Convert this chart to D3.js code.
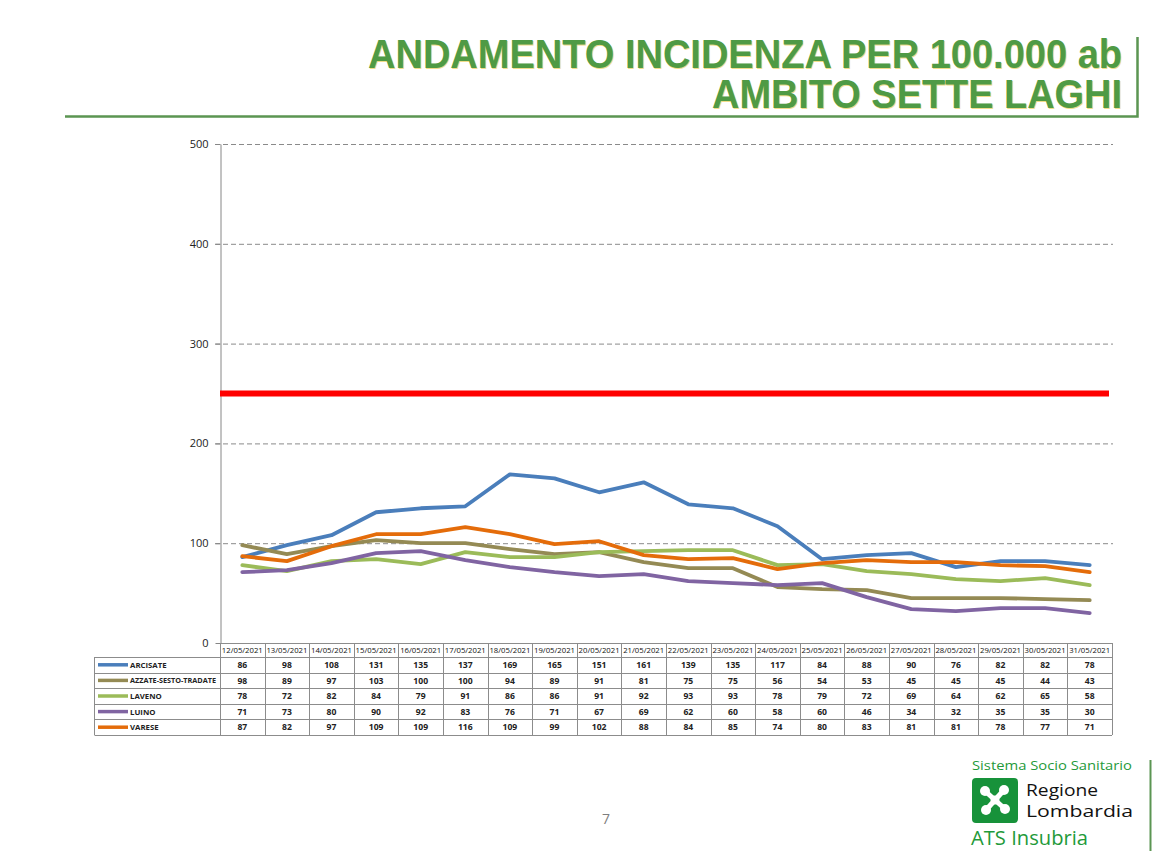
<!DOCTYPE html>
<html>
<head>
<meta charset="utf-8">
<script src="https://cdn.jsdelivr.net/npm/d3@7"></script>
<style>
  body { margin:0; background:#fff; }
  svg text { font-family: "Open Sans", "DejaVu Sans", sans-serif; }
  .title { font-family: "Liberation Sans Narrow", "Liberation Sans", Arial, sans-serif; font-weight:bold; fill:#4f9a45; }
</style>
</head>
<body>
<div id="chart"></div>
<script>
const dates = ["12/05/2021","13/05/2021","14/05/2021","15/05/2021","16/05/2021","17/05/2021","18/05/2021",
  "19/05/2021","20/05/2021","21/05/2021","22/05/2021","23/05/2021","24/05/2021","25/05/2021","26/05/2021",
  "27/05/2021","28/05/2021","29/05/2021","30/05/2021","31/05/2021"];
const names  = ["ARCISATE","AZZATE-SESTO-TRADATE","LAVENO","LUINO","VARESE"];
const colors = ["#4a7ebb","#948a54","#9bbb59","#8064a2","#e46c0a"];
const arcisate = [86,98,108,131,135,137,169,165,151,161,139,135,117,84,88,90,76,82,82,78];
const azzate   = [98,89,97,103,100,100,94,89,91,81,75,75,56,54,53,45,45,45,44,43];
const laveno   = [78,72,82,84,79,91,86,86,91,92,93,93,78,79,72,69,64,62,65,58];
const luino    = [71,73,80,90,92,83,76,71,67,69,62,60,58,60,46,34,32,35,35,30];
const varese   = [87,82,97,109,109,116,109,99,102,88,84,85,74,80,83,81,81,78,77,71];
const series = [arcisate, azzate, laveno, luino, varese];
const yTicks = [0,100,200,300,400,500];
const threshold = 250;

const W = 1168, H = 851;
const svg = d3.select("#chart").append("svg").attr("width",W).attr("height",H);

// title block (narrow bold face squeezed to the original width)
[["ANDAMENTO INCIDENZA PER 100.000 ab",68,754],["AMBITO SETTE LAGHI",108,410]].forEach(t=>{
  svg.append("text").attr("class","title").attr("x",1122).attr("y",t[1])
    .attr("text-anchor","end").attr("font-size",40)
    .attr("textLength",t[2]).attr("lengthAdjust","spacingAndGlyphs")
    .style("text-shadow","1px 1px 0 #f0dc8a")
    .text(t[0]);
});
svg.append("path").attr("d","M65,116.5H1137.5V37").attr("fill","none")
  .attr("stroke","#5b9552").attr("stroke-width",2.5);

// scales
const x = d3.scaleBand().domain(dates).range([220,1112]);
const y = d3.scaleLinear().domain([0,500]).range([643,144]);

// grid
svg.append("g").selectAll("line").data(yTicks.slice(1)).enter().append("line")
  .attr("x1",215).attr("x2",1113).attr("y1",d=>y(d)+0.5).attr("y2",d=>y(d)+0.5)
  .attr("stroke","#8a8a8a").attr("stroke-dasharray","5,3");

// axis
const ax = svg.append("g").attr("transform","translate(220.5,0)")
  .call(d3.axisLeft(y).tickValues(yTicks).tickSize(5).tickSizeOuter(0).tickPadding(7));
ax.select(".domain").attr("stroke","#868686");
ax.selectAll(".tick line").attr("stroke","#868686");
ax.selectAll(".tick text").attr("font-size",11).attr("fill","#222");

// threshold line
svg.append("line").attr("x1",220).attr("x2",1109)
  .attr("y1",y(threshold)).attr("y2",y(threshold))
  .attr("stroke","#ff0000").attr("stroke-width",6);

// series lines
const line = d3.line().x((d,i)=>x(dates[i])+x.bandwidth()/2).y(d=>y(d));
svg.append("g").selectAll("path").data(series).enter().append("path")
  .attr("d",line).attr("fill","none").attr("stroke",(d,i)=>colors[i])
  .attr("stroke-width",3.8).attr("stroke-linejoin","round").attr("stroke-linecap","round");

// data table
const headTop = 643, headH = 14, rowH = 15.6, legL = 94.5;
const tbl = svg.append("g");
const bodyTop = headTop + headH, bodyBot = bodyTop + rowH*names.length;
tbl.selectAll("text.date").data(dates).enter().append("text")
  .attr("x",d=>x(d)+x.bandwidth()/2).attr("y",headTop+10)
  .attr("text-anchor","middle").attr("font-size",7.6).attr("fill","#111")
  .attr("textLength",41).attr("lengthAdjust","spacingAndGlyphs").text(d=>d);
const edges = dates.map(d=>x(d)).concat([x.range()[1]]);
tbl.selectAll("line.v").data(edges).enter().append("line")
  .attr("x1",d=>Math.round(d)+0.5).attr("x2",d=>Math.round(d)+0.5)
  .attr("y1",headTop).attr("y2",bodyBot).attr("stroke","#8c8c8c");
tbl.append("line").attr("x1",220).attr("x2",1112).attr("y1",headTop+0.5).attr("y2",headTop+0.5).attr("stroke","#8c8c8c");
tbl.selectAll("line.h").data(d3.range(names.length+1)).enter().append("line")
  .attr("x1",legL).attr("x2",1112).attr("y1",i=>Math.round(bodyTop+i*rowH)+0.5).attr("y2",i=>Math.round(bodyTop+i*rowH)+0.5)
  .attr("stroke","#8c8c8c");
tbl.append("line").attr("x1",legL).attr("x2",legL).attr("y1",bodyTop).attr("y2",bodyBot).attr("stroke","#8c8c8c");

const rows = tbl.selectAll("g.row").data(series).enter().append("g")
  .attr("transform",(d,i)=>`translate(0,${bodyTop+i*rowH})`);
rows.append("line").attr("x1",98).attr("x2",128).attr("y1",rowH/2).attr("y2",rowH/2)
  .attr("stroke",(d,i)=>colors[i]).attr("stroke-width",3.5);
rows.append("text").attr("x",130).attr("y",rowH/2+3).attr("font-size",7.8).attr("font-weight","bold")
  .attr("fill","#222").attr("textLength",(d,i)=>i===1?86:null).attr("lengthAdjust","spacingAndGlyphs")
  .text((d,i)=>names[i]);
rows.selectAll("text.v").data(d=>d).enter().append("text")
  .attr("x",(d,i)=>x(dates[i])+x.bandwidth()/2).attr("y",rowH/2+3.2)
  .attr("text-anchor","middle").attr("font-size",8.6).attr("font-weight","bold").attr("fill","#222").text(d=>d);

// page number
svg.append("text").attr("x",606).attr("y",824).attr("text-anchor","middle")
  .attr("font-size",14).attr("fill","#7f7f7f").text("7");

// logo
const lg = svg.append("g");
lg.append("text").attr("x",972).attr("y",770).attr("font-size",13.5).attr("fill","#1f9a3a")
  .attr("font-family","Lato, sans-serif").attr("textLength",160).attr("lengthAdjust","spacingAndGlyphs")
  .text("Sistema Socio Sanitario");
lg.append("rect").attr("x",972).attr("y",778).attr("width",46).attr("height",45).attr("rx",4).attr("fill","#17923a");
const cx = 995, cy = 800;
[[-10,-9],[9,-10],[-9,10],[10,9]].forEach(p=>{
  lg.append("line").attr("x1",cx).attr("y1",cy).attr("x2",cx+p[0]).attr("y2",cy+p[1])
    .attr("stroke","#fff").attr("stroke-width",5);
  lg.append("circle").attr("cx",cx+p[0]).attr("cy",cy+p[1]).attr("r",5).attr("fill","#fff");
});
lg.append("circle").attr("cx",cx).attr("cy",cy).attr("r",4.5).attr("fill","#fff");
lg.append("text").attr("x",1026).attr("y",796).attr("font-size",16.5).attr("fill","#111")
  .attr("font-family","Lato, sans-serif").attr("textLength",72).attr("lengthAdjust","spacingAndGlyphs").text("Regione");
lg.append("text").attr("x",1026).attr("y",817).attr("font-size",16.5).attr("fill","#111")
  .attr("font-family","Lato, sans-serif").attr("textLength",107).attr("lengthAdjust","spacingAndGlyphs").text("Lombardia");
lg.append("text").attr("x",971).attr("y",845).attr("font-size",20).attr("fill","#1f9a3a")
  .attr("font-family","Lato, sans-serif").attr("textLength",117).attr("lengthAdjust","spacingAndGlyphs").text("ATS Insubria");
lg.append("line").attr("x1",1150.5).attr("x2",1150.5).attr("y1",760).attr("y2",851)
  .attr("stroke","#5b9552").attr("stroke-width",2);
</script>
</body>
</html>
